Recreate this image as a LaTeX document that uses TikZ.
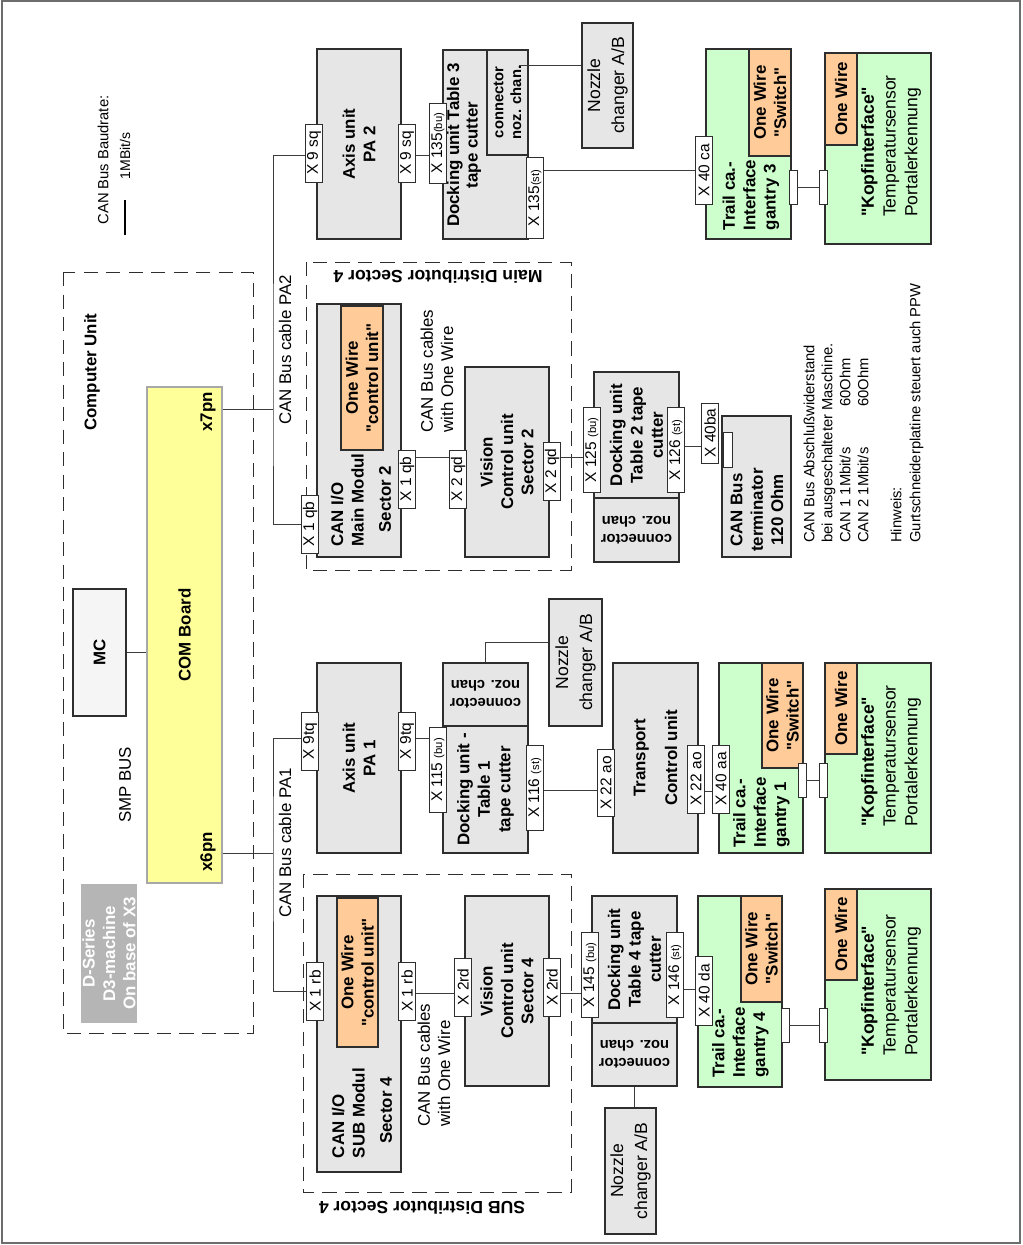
\documentclass[tikz,border=0pt]{standalone}
\usepackage{fontspec}
\setmainfont{Liberation Sans}[Ligatures=TeXOff]
\usetikzlibrary{positioning}
\definecolor{ink}{HTML}{2E2E2E}
\definecolor{wirecol}{HTML}{3C3C3C}
\definecolor{unitgray}{HTML}{E6E6E6}
\definecolor{mcgray}{HTML}{F5F5F5}
\definecolor{boardyellow}{HTML}{FFFF99}
\definecolor{boardedge}{HTML}{A8A8A8}
\definecolor{wireorange}{HTML}{FFCC99}
\definecolor{trailgreen}{HTML}{CCFFCC}
\definecolor{seriesgray}{HTML}{B5B5B5}
\newcommand{\pxu}{0.025cm}
\newcommand{\fsz}[2]{\fontsize{#1}{#2}\selectfont}
\newcommand{\portsub}[1]{{\fsz{8}{9}#1}}
\tikzset{
boxsize/.style 2 args={minimum width=#2*\pxu,minimum height=#1*\pxu},
flipsize/.style 2 args={minimum width=#1*\pxu,minimum height=#2*\pxu},
boxbase/.style={draw=ink,fill=unitgray,line width=.9pt,align=center,inner sep=0pt,font=\bfseries\fsz{12}{14.5}},
unitbox/.style={boxbase,rotate=90},
flipunit/.style={boxbase,rotate=180,font=\bfseries\fsz{10.5}{12.5}},
wirebox/.style={unitbox,fill=wireorange},
trailbox/.style={unitbox,fill=trailgreen},
nozzlebox/.style={unitbox,font=\fsz{12.5}{17}},
portbox/.style={draw=ink,fill=white,line width=.7pt,rotate=90,inner sep=0pt,minimum width=58*\pxu,minimum height=17*\pxu,font=\fsz{11}{12}},
padbox/.style={draw=ink,fill=white,line width=.7pt,inner sep=0pt,minimum width=8*\pxu,minimum height=34*\pxu},
regionbox/.style={draw=ink,line width=.7pt,dash pattern=on 10pt off 6pt,rotate=90,inner sep=0pt},
wireline/.style={draw=wirecol,line width=.6pt},
lettering/.style={rotate=90,align=left,inner sep=0pt,font=\fsz{12}{14.5}},
heading/.style={lettering,font=\bfseries\fsz{12}{14.5}},
fliphead/.style={rotate=180,inner sep=0pt,font=\bfseries\fsz{12.5}{15}},
remark/.style={lettering,font=\fsz{10.5}{12.8}}}

\begin{document}
\begin{tikzpicture}[x=\pxu,y=-\pxu]
\useasboundingbox (0,0) rectangle (1022,1245);
\draw[draw=ink!70,line width=.8pt] (2,1) rectangle (1020,1243);

\node[lettering,font=\fsz{10.5}{12}] (baudrate) at (103,160) {CAN Bus Baudrate:};
\node[lettering,font=\fsz{10}{12}] (baudval) at (125,156) {1MBit/s};
\coordinate (legtop) at (125,200);
\coordinate (legbot) at (125,235);
\draw[draw=black,line width=1.6pt] (legtop) -- (legbot);

\node[regionbox,boxsize={190}{761}] (compunit) at (158,652.5) {};
\node[heading] (compname) at (92,372) {Computer Unit};
\node[unitbox,fill=boardyellow,draw=boardedge,boxsize={75}{496}] (comboard) at (184.5,635) {COM Board};
\node[heading] (x7pn) at (208,412) {x7pn};
\node[heading] (x6pn) at (208,852) {x6pn};
\node[unitbox,fill=mcgray,boxsize={53}{127}] (mc) at (99.5,652.5) {MC};
\draw[wireline] (mc.south) -- (mc.south -| comboard.north);
\node[lettering] (smpbus) at (125,785) {SMP BUS};
\node[unitbox,fill=seriesgray,draw=none,text=white,boxsize={56}{139}] (dseries) at (109,953.5) {D-Series\\D3-machine\\On base of X3};

\node[lettering] (pa2name) at (285,350) {CAN Bus cable PA2};
\node[lettering] (pa1name) at (285,843) {CAN Bus cable PA1};

\node[regionbox,boxsize={265}{308}] (maindist) at (438.5,416) {};
\node[fliphead] (maindistname) at (438,277) {Main Distributor Sector 4};
\node[unitbox,boxsize={84}{253}] (mainmod) at (359,430.5) {};
\node[wirebox,boxsize={42}{144}] (mainwire) at (362,378) {One Wire\\"control unit"};
\node[heading] (mainmodname) at (361,500) {CAN I/O\\Main Modul\\[5pt]\hspace*{10pt}Sector 2};
\node[unitbox,boxsize={84}{190}] (vision2) at (507,462) {Vision\\Control unit\\Sector 2};
\node[lettering] (mainbus) at (437,371) {CAN Bus cables\\with One Wire};
\node[portbox] (x1qbL) at (310,524) {X 1 qb};
\node[portbox] (x1qbR) at (407,479) {X 1 qb};
\node[portbox] (x2qdL) at (458,479) {X 2 qd};
\node[portbox] (x2qdR) at (552,471) {X 2 qd};

\node[unitbox,boxsize={85}{126}] (dock2) at (636.5,435) {Docking unit\\Table 2 tape\\cutter};
\node[flipunit,flipsize={85}{64}] (dock2conn) at (636.5,530) {connector\\noz. chan};
\node[portbox,minimum width=85*\pxu] (x125) at (592,450) {X 125 \portsub{(bu)}};
\node[portbox,minimum width=85*\pxu] (x126) at (676,450) {X 126 \portsub{(st)}};
\node[unitbox,boxsize={69}{141}] (terminator) at (756.5,486.5) {};
\node[padbox,minimum width=9*\pxu,minimum height=35*\pxu] (termpad) at (727.5,449.5) {};
\node[heading,align=center] (termname) at (757,510) {CAN Bus\\terminator\\120 Ohm};
\node[portbox,minimum width=60*\pxu] (x40ba) at (710,433) {X 40ba};
\coordinate (mainrow) at (0,457);
\coordinate (termrow) at (0,446);
\draw[wireline] (x1qbR.south |- mainrow) -- (x2qdL.north |- mainrow);
\draw[wireline] (x2qdR.south |- mainrow) -- (x125.north |- mainrow);
\draw[wireline] (x126.south |- termrow) -- (x40ba.north |- termrow);

\node[remark] (abschluss) at (836,443) {CAN Bus Abschlußwiderstand\\bei ausgeschalteter Maschine.\\\makebox[3.4cm][l]{CAN 1 1Mbit/s}60Ohm\\\makebox[3.4cm][l]{CAN 2 1Mbit/s}60Ohm};
\node[remark,font=\fsz{10.5}{13.5}] (hinweis) at (907,413) {Hinweis:\\Gurtschneiderplatine steuert auch PPW};

\node[unitbox,boxsize={84}{190}] (axis2) at (359,144) {Axis unit\\PA 2};
\node[unitbox,boxsize={85}{189}] (dock3) at (485.5,144.5) {};
\node[unitbox,boxsize={41}{105},font=\bfseries\fsz{10.5}{12.5}] (dock3conn) at (507.5,102.5) {connector\\noz. chan.};
\node[heading,align=center,font=\bfseries\fsz{12}{13}] (dock3name) at (464,145) {Docking unit Table 3\\tape cutter};
\node[nozzlebox,boxsize={51}{125}] (nozzle2) at (607.5,85.5) {Nozzle\\changer A/B};
\node[portbox] (x9sqL) at (314,153) {X 9 sq};
\node[portbox] (x9sqR) at (407,153) {X 9 sq};
\node[portbox,minimum width=80*\pxu] (x135bu) at (438,143) {X 135\portsub{(bu)}};
\node[portbox,minimum width=81*\pxu] (x135st) at (535,198) {X 135\portsub{(st)}};
\coordinate (dock3plug) at (519,65);
\draw[wireline] (dock3plug) -- (dock3plug -| nozzle2.north);

\node[trailbox,boxsize={85}{190}] (gantry3) at (748.5,144) {};
\node[wirebox,boxsize={42}{107}] (gantry3wire) at (770,102.5) {One Wire\\"Switch"};
\node[heading] (gantry3name) at (751,195) {Trail ca.-\\Interface\\gantry 3};
\node[portbox,minimum width=68*\pxu] (x40ca) at (704,170) {X 40 ca};
\node[trailbox,boxsize={106}{191}] (kopf3) at (878,148.5) {};
\node[wirebox,boxsize={32}{92}] (kopf3wire) at (841,99) {One Wire};
\node[lettering,font=\fsz{12.5}{15.5}] (kopf3name) at (891,146) {\textbf{"Kopfinterface"}\\Temperatursensor\\Portalerkennung};
\node[padbox] (gantry3pad) at (793,187) {};
\node[padbox] (kopf3pad) at (823,187) {};
\coordinate (pa2row) at (0,155);
\coordinate (gantry3row) at (0,170);
\coordinate (pa2tap) at (273,409);
\draw[wireline] (pa2tap -| comboard.south) -- (pa2tap);
\draw[wireline] (x9sqL.north |- pa2row) -| (pa2tap) |- (x1qbL.north);
\draw[wireline] (x9sqR.south |- pa2row) -- (x135bu.north |- pa2row);
\draw[wireline] (x135st.south |- gantry3row) -- (x40ca.north |- gantry3row);
\draw[wireline] (gantry3pad.east) -- (kopf3pad.west);

\node[unitbox,boxsize={84}{190}] (axis1) at (359,758) {Axis unit\\PA 1};
\node[flipunit,flipsize={85}{63}] (dock1conn) at (485.5,694.5) {connector\\noz. chan};
\node[unitbox,boxsize={85}{127}] (dock1) at (485.5,789.5) {Docking unit -\\Table 1\\tape cutter};
\node[nozzlebox,boxsize={53}{127}] (nozzle1) at (575.5,662.5) {Nozzle\\changer A/B};
\node[unitbox,boxsize={85}{190}] (transport) at (655.5,758) {Transport\\[8pt]Control unit};
\node[portbox] (x9tqL) at (310,741) {X 9tq};
\node[portbox] (x9tqR) at (407,741) {X 9tq};
\node[portbox,minimum width=85*\pxu] (x115) at (438,770) {X 115 \portsub{(bu)}};
\node[portbox,minimum width=85*\pxu] (x116) at (535,788) {X 116 \portsub{(st)}};
\node[portbox,minimum width=67*\pxu] (x22aoL) at (606,783) {X 22 ao};
\node[trailbox,boxsize={84}{190}] (gantry1) at (761,758) {};
\node[wirebox,boxsize={41}{105}] (gantry1wire) at (782.5,715.5) {One Wire\\"Switch"};
\node[heading] (gantry1name) at (761.5,812.5) {Trail ca.-\\Interface\\gantry 1};
\node[portbox,minimum width=68*\pxu] (x22aoR) at (696,779) {X 22 ao};
\node[portbox,minimum width=68*\pxu] (x40aa) at (721,779) {X 40 aa};
\node[trailbox,boxsize={106}{190}] (kopf1) at (878,758) {};
\node[wirebox,boxsize={32}{91}] (kopf1wire) at (841,708.5) {One Wire};
\node[lettering,font=\fsz{12.5}{15.5}] (kopf1name) at (891,756) {\textbf{"Kopfinterface"}\\Temperatursensor\\Portalerkennung};
\node[padbox] (gantry1pad) at (802,780) {};
\node[padbox] (kopf1pad) at (823,780) {};
\coordinate (pa1row) at (0,738);
\coordinate (nozzle1row) at (0,642);
\coordinate (transrow) at (0,790);
\coordinate (gantry1row) at (0,791);
\coordinate (pa1tap) at (273,853);
\draw[wireline] (pa1tap -| comboard.south) -- (pa1tap);
\draw[wireline] (x9tqR.south |- pa1row) -- (x115.north |- pa1row);
\draw[wireline] (dock1conn.south) |- (nozzle1.north |- nozzle1row);
\draw[wireline] (x116.south |- transrow) -- (x22aoL.north |- transrow);
\draw[wireline] (x22aoR.south |- gantry1row) -- (x40aa.north |- gantry1row);
\draw[wireline] (gantry1pad.east) -- (kopf1pad.west);

\node[regionbox,boxsize={268}{318}] (subdist) at (437,1033) {};
\node[fliphead] (subdistname) at (422,1208) {SUB Distributor Sector 4};
\node[unitbox,boxsize={84}{276}] (submod) at (359,1034) {};
\node[wirebox,boxsize={41}{149}] (subwire) at (357.5,972.5) {One Wire\\"control unit"};
\node[heading] (submodname) at (362,1113) {CAN I/O\\SUB Modul\\[5pt]\hspace*{10pt}Sector 4};
\node[unitbox,boxsize={84}{190}] (vision4) at (507,991) {Vision\\Control unit\\Sector 4};
\node[lettering] (subbus) at (434,1065) {CAN Bus cables\\with One Wire};
\node[portbox] (x1rbL) at (315,991) {X 1 rb};
\node[portbox] (x1rbR) at (407,991) {X 1 rb};
\node[portbox] (x2rdL) at (463,987) {X 2rd};
\node[portbox] (x2rdR) at (552,987) {X 2rd};
\node[unitbox,boxsize={85}{127}] (dock4) at (634.5,959.5) {Docking unit\\Table 4 tape\\cutter};
\node[flipunit,flipsize={85}{63}] (dock4conn) at (634.5,1054.5) {connector\\noz. chan};
\node[nozzlebox,boxsize={51}{126}] (nozzle4) at (630.5,1171) {Nozzle\\changer A/B};
\node[portbox,minimum width=85*\pxu] (x145) at (590,975) {X 145 \portsub{(bu)}};
\node[portbox,minimum width=85*\pxu] (x146) at (675,975) {X 146 \portsub{(st)}};
\node[trailbox,boxsize={84}{191}] (gantry4) at (740,991.5) {};
\node[wirebox,boxsize={41}{106}] (gantry4wire) at (761.5,949) {One Wire\\"Switch"};
\node[heading] (gantry4name) at (740.5,1042.5) {Trail ca.-\\Interface\\gantry 4};
\node[portbox,minimum width=69*\pxu] (x40da) at (704,991) {X 40 da};
\node[trailbox,boxsize={106}{191}] (kopf4) at (878,984.5) {};
\node[wirebox,boxsize={32}{91}] (kopf4wire) at (841,934.5) {One Wire};
\node[lettering,font=\fsz{12.5}{15.5}] (kopf4name) at (891,985) {\textbf{"Kopfinterface"}\\Temperatursensor\\Portalerkennung};
\node[padbox] (gantry4pad) at (785,1025) {};
\node[padbox] (kopf4pad) at (823,1025) {};
\coordinate (subrow) at (0,993);
\coordinate (gantry4row) at (0,989);
\draw[wireline] (x9tqL.north |- pa1row) -| (pa1tap) |- (x1rbL.north);
\draw[wireline] (x1rbR.south |- subrow) -- (x2rdL.north |- subrow);
\draw[wireline] (x2rdR.south |- subrow) -- (x145.north |- subrow);
\draw[wireline] (x146.south |- gantry4row) -- (x40da.north |- gantry4row);
\draw[wireline] (dock4conn.north) -- (dock4conn.north |- nozzle4.east);
\draw[wireline] (gantry4pad.east) -- (kopf4pad.west);
\end{tikzpicture}
\end{document}
